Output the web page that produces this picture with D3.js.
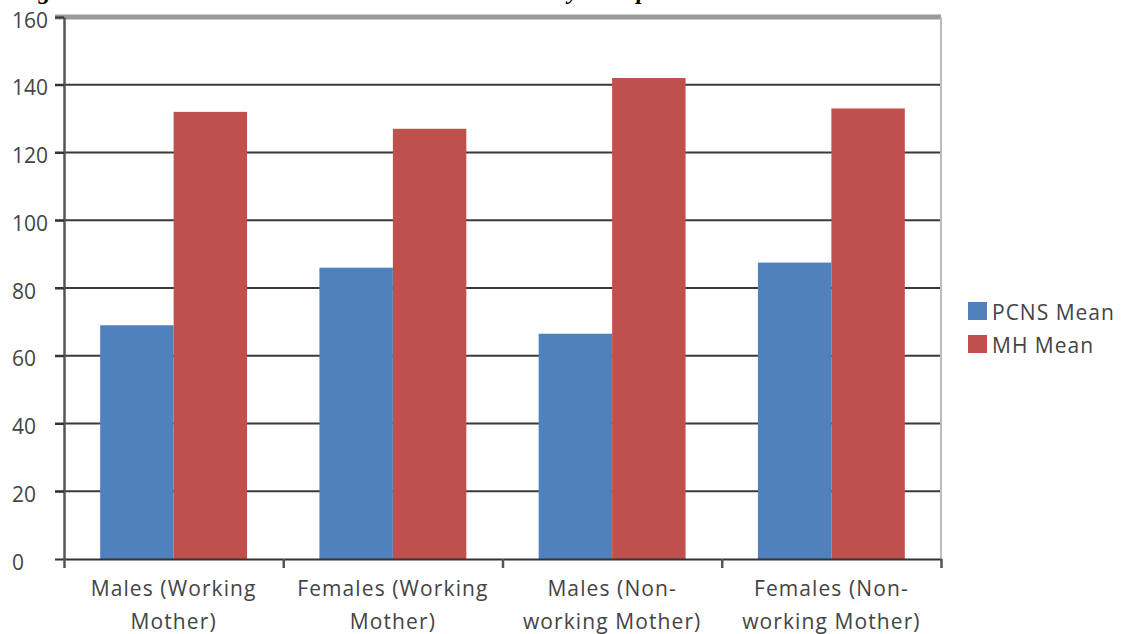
<!DOCTYPE html>
<html lang="en">
  <head>
    <meta charset="UTF-8" />
    <title>PCNS and MH Mean</title>
    <script src="https://cdn.jsdelivr.net/npm/d3@7"></script>
    <style>
      body { margin: 0; background: #fff; }
      svg { display: block; }
    </style>
  </head>
  <body>
    <div id="chart"></div>
    <script>
      // data
      const categories = [
        ["Males (Working", "Mother)"],
        ["Females (Working", "Mother)"],
        ["Males (Non-", "working Mother)"],
        ["Females (Non-", "working Mother)"]
      ];
      const seriesNames = ["PCNS Mean", "MH Mean"];
      const pcnsMean = [69, 86, 66.5, 87.5];
      const mhMean = [132, 127, 142, 133];
      const yTicks = [0, 20, 40, 60, 80, 100, 120, 140, 160];
      const colors = ["#4F81BD", "#C0504D"];

      const width = 1121;
      const height = 634;
      const margin = { left: 64, right: 180, top: 17, bottom: 75 };
      const plotW = width - margin.left - margin.right;
      const plotH = height - margin.top - margin.bottom;
      const font = "Open Sans";

      const svg = d3.select("#chart")
        .append("svg")
        .attr("width", width)
        .attr("height", height);

      // title is cut off at the top, only the descenders show
      svg.append("text")
        .attr("x", 16)
        .attr("y", -1)
        .attr("font-family", "Liberation Serif")
        .attr("font-size", 24)
        .attr("font-weight", "bold")
        .attr("font-style", "italic")
        .text("Figure 1: Mean Scores on PCNS and MH in Students by Groups");

      const g = svg.append("g")
        .attr("transform", `translate(${margin.left},${margin.top})`);

      const x0 = d3.scaleBand()
        .domain(d3.range(categories.length))
        .range([0, plotW]);
      const gap = x0.bandwidth() * 0.165;
      const x1 = d3.scaleBand()
        .domain(seriesNames)
        .range([gap, x0.bandwidth() - gap]);
      const y = d3.scaleLinear().domain([0, 160]).range([plotH, 0]);

      // gridlines
      g.selectAll(".grid")
        .data(yTicks.filter(d => d > 0))
        .enter()
        .append("line")
        .attr("x1", -9)
        .attr("x2", plotW)
        .attr("y1", d => y(d))
        .attr("y2", d => y(d))
        .attr("stroke", d => d === 160 ? "#9a9a9a" : "#3a3a3a")
        .attr("stroke-width", d => d === 160 ? 5 : 2);

      // right border
      g.append("line")
        .attr("x1", plotW).attr("x2", plotW)
        .attr("y1", 0).attr("y2", plotH)
        .attr("stroke", "#bbb")
        .attr("stroke-width", 2);

      // bars
      const rows = seriesNames.map((s, i) => ({ name: s, values: i === 0 ? pcnsMean : mhMean, color: colors[i] }));
      rows.forEach(r => {
        g.selectAll(null)
          .data(r.values)
          .enter()
          .append("rect")
          .attr("x", (d, i) => x0(i) + x1(r.name))
          .attr("y", d => y(d))
          .attr("width", x1.bandwidth())
          .attr("height", d => plotH - y(d))
          .attr("fill", r.color);
      });

      // y axis, labels are left aligned
      const yAxis = g.append("g")
        .call(d3.axisLeft(y).tickValues(yTicks).tickSize(9).tickSizeOuter(0));
      yAxis.select(".domain").attr("stroke", "#555").attr("stroke-width", 2.5);
      yAxis.selectAll(".tick line").attr("stroke", "#333").attr("stroke-width", 2);
      yAxis.selectAll(".tick text")
        .attr("x", 12 - margin.left)
        .attr("dy", "0.48em")
        .attr("text-anchor", "start")
        .attr("font-family", font)
        .attr("font-size", 21)
        .attr("fill", "#444");

      // x axis
      const xAxis = g.append("g")
        .attr("transform", `translate(0,${plotH})`)
        .call(d3.axisBottom(d3.scaleLinear().domain([0, categories.length]).range([0, plotW]))
          .tickValues(d3.range(categories.length + 1)).tickSize(9).tickSizeOuter(0).tickFormat(""));
      xAxis.select(".domain").attr("stroke", "#333").attr("stroke-width", 2);
      xAxis.selectAll(".tick line").attr("stroke", "#555").attr("stroke-width", 2.5);

      const labels = g.selectAll(".xlab")
        .data(categories)
        .enter()
        .append("text")
        .attr("text-anchor", "middle")
        .attr("font-family", font)
        .attr("font-size", 21)
        .attr("letter-spacing", 1.1)
        .attr("fill", "#444")
        .attr("transform", (d, i) => `translate(${x0(i) + x0.bandwidth() / 2},${plotH + 37})`);
      labels.selectAll("tspan")
        .data(d => d)
        .enter()
        .append("tspan")
        .attr("x", 0)
        .attr("dy", (d, i) => i === 0 ? 0 : 33)
        .text(d => d);

      // legend
      const legend = svg.append("g").attr("transform", "translate(968,302)");
      rows.forEach((r, i) => {
        legend.append("rect")
          .attr("x", 0).attr("y", i * 33)
          .attr("width", 19).attr("height", 18)
          .attr("fill", r.color);
        legend.append("text")
          .attr("x", 24).attr("y", i * 33 + 18)
          .attr("font-family", font)
          .attr("font-size", 21)
          .attr("letter-spacing", 1)
          .attr("fill", "#444")
          .text(r.name);
      });
    </script>
  </body>
</html>
